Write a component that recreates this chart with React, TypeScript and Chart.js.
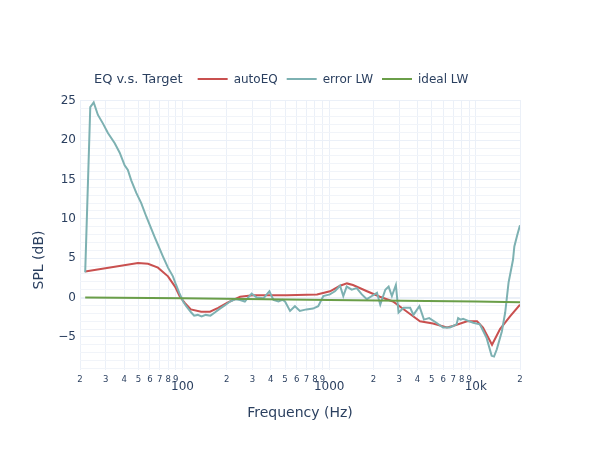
import React, { useEffect, useRef } from "react";
import { Chart, registerables } from "chart.js";

Chart.register(...registerables);

const FONT = '"DejaVu Sans", Verdana, sans-serif';
const TEXT = "#2a3f5f";
const GRID = "#ebf0f8";
const GRID_MINOR = "#f1f4f9";

const LEGEND_TITLE = "EQ v.s. Target";
const SERIES_NAMES = ["autoEQ", "error LW", "ideal LW"];
const SERIES_COLORS = ["#c9504f", "#7db1b2", "#6a9e48"];

const AUTOEQ_FREQ = [21.7, 49.7, 58.2, 68, 79.6, 88.9, 96, 104, 114, 134, 154, 175, 204, 247, 302, 515, 826, 1014, 1186, 1322, 1453, 1810, 2218, 2723, 3393, 4160, 5100, 6355, 6980, 8710, 10190, 11190, 12890, 14620, 17100, 20000];
const AUTOEQ_DB = [3.3, 4.4, 4.3, 3.8, 2.7, 1.4, 0.1, -0.7, -1.5, -1.8, -1.8, -1.3, -0.6, 0.1, 0.3, 0.3, 0.4, 0.8, 1.5, 1.8, 1.6, 0.8, 0.1, -0.5, -1.8, -3.0, -3.3, -3.8, -3.6, -3.0, -3.0, -3.8, -6.0, -4.0, -2.4, -0.9];

const ERROR_FREQ = [21.7, 23.5, 24.8, 26.5, 28.7, 31, 34.5, 37.3, 40.3, 42.4, 44.7, 48.4, 52.3, 56.6, 64.5, 73.6, 79.6, 86, 90.4, 95, 101, 106, 114.7, 120, 127, 135, 144, 155, 166, 180, 194, 211, 230, 247, 266, 280, 296, 321, 356, 391, 417, 451, 480, 500, 541, 584, 631, 700, 776, 842, 912, 1011, 1094, 1186, 1248, 1316, 1424, 1540, 1669, 1806, 1955, 2118, 2230, 2414, 2542, 2677, 2849, 2972, 3218, 3566, 3753, 4122, 4428, 4807, 5384, 5971, 6653, 7385, 7573, 7858, 8188, 8700, 9586, 10647, 11826, 12815, 13300, 13880, 15040, 15850, 16710, 17920, 18300, 19200, 20000];
const ERROR_DB = [3.2, 24.2, 24.8, 23.2, 22.1, 20.9, 19.6, 18.4, 16.8, 16.2, 14.9, 13.3, 12.0, 10.3, 7.7, 5.2, 3.8, 2.7, 1.6, 0.6, -0.5, -1.1, -1.9, -2.3, -2.2, -2.4, -2.2, -2.3, -1.9, -1.4, -1.0, -0.5, -0.2, -0.3, -0.5, 0.0, 0.5, 0.0, -0.1, 0.8, -0.3, -0.5, -0.3, -0.5, -1.7, -1.1, -1.7, -1.5, -1.4, -1.1, 0.2, 0.4, 0.8, 1.5, 0.2, 1.4, 1.0, 1.2, 0.4, -0.2, 0.2, 0.6, -0.9, 1.0, 1.4, 0.2, 1.6, -1.9, -1.3, -1.3, -2.2, -1.1, -2.8, -2.6, -3.2, -3.8, -3.8, -3.4, -2.6, -2.8, -2.7, -2.9, -3.2, -3.4, -5.1, -7.4, -7.5, -6.6, -4.3, -1.9, 1.9, 4.8, 6.5, 8.0, 9.2];

const IDEAL_FREQ = [21.7, 100, 1000, 10000, 20000];
const IDEAL_DB = [0.0, -0.1, -0.3, -0.5, -0.6];

const X_TICK_VALUES = [20, 30, 40, 50, 60, 70, 80, 90, 100, 200, 300, 400, 500, 600, 700, 800, 900, 1000, 2000, 3000, 4000, 5000, 6000, 7000, 8000, 9000, 10000, 20000];
const X_TICK_LABELS = ["2", "3", "4", "5", "6", "7", "8", "9", "100", "2", "3", "4", "5", "6", "7", "8", "9", "1000", "2", "3", "4", "5", "6", "7", "8", "9", "10k", "2"];
const X_MAJOR = [100, 1000, 10000];
const X_MIN = 20;
const X_MAX = 20000;

const Y_TICK_VALUES = [-5, 0, 5, 10, 15, 20, 25];
const Y_MIN = -9.2;
const Y_MAX = 25.1;

const X_TITLE = "Frequency (Hz)";
const Y_TITLE = "SPL (dB)";

function toPoints(xs: number[], ys: number[]) {
  return xs.map((x, i) => ({ x, y: ys[i] }));
}

const legendPlugin = {
  id: "plotlyLegend",
  afterDraw(chart: any) {
    const ctx = chart.ctx as CanvasRenderingContext2D;
    ctx.save();
    ctx.textBaseline = "middle";
    ctx.textAlign = "left";
    ctx.fillStyle = TEXT;
    ctx.font = `13px ${FONT}`;
    const y = 80;
    let x = 94;
    ctx.fillText(LEGEND_TITLE, x, y);
    x += ctx.measureText(LEGEND_TITLE).width + 15;
    ctx.font = `12px ${FONT}`;
    chart.data.datasets.forEach((ds: any) => {
      ctx.strokeStyle = ds.borderColor;
      ctx.lineWidth = 2;
      ctx.beginPath();
      ctx.moveTo(x, y - 1);
      ctx.lineTo(x + 30, y - 1);
      ctx.stroke();
      ctx.fillStyle = TEXT;
      ctx.fillText(ds.label, x + 36, y);
      x += 36 + ctx.measureText(ds.label).width + 9;
    });
    // y axis title
    ctx.save();
    ctx.translate(39, 260);
    ctx.rotate(-Math.PI / 2);
    ctx.textAlign = "center";
    ctx.textBaseline = "middle";
    ctx.font = `14px ${FONT}`;
    ctx.fillStyle = TEXT;
    ctx.fillText(Y_TITLE, 0, 0);
    ctx.restore();
    ctx.restore();
  },
};

export default function App() {
  const canvasRef = useRef<HTMLCanvasElement | null>(null);

  useEffect(() => {
    const canvas = canvasRef.current;
    if (!canvas) return;
    const yGrid: number[] = [];
    for (let v = Math.ceil(Y_MIN); v <= Math.floor(Y_MAX); v++) yGrid.push(v);

    const series = [
      toPoints(AUTOEQ_FREQ, AUTOEQ_DB),
      toPoints(ERROR_FREQ, ERROR_DB),
      toPoints(IDEAL_FREQ, IDEAL_DB),
    ];

    const chart = new Chart(canvas, {
      type: "line",
      data: {
        datasets: series.map((data, i) => ({
          label: SERIES_NAMES[i],
          data,
          borderColor: SERIES_COLORS[i],
          backgroundColor: SERIES_COLORS[i],
          borderWidth: 2,
          pointRadius: 0,
          tension: 0,
          fill: false,
          order: 3 - i,
        })),
      },
      options: {
        responsive: false,
        animation: false,
        devicePixelRatio: 1,
        layout: { padding: { top: 100, left: 0, right: 80, bottom: 0 } },
        plugins: {
          legend: { display: false },
          tooltip: { enabled: false },
        },
        scales: {
          x: {
            type: "logarithmic",
            min: X_MIN,
            max: X_MAX,
            afterBuildTicks: (s: any) => {
              s.ticks = X_TICK_VALUES.map((v) => ({ value: v }));
            },
            afterFit: (s: any) => {
              s.height = 80;
            },
            border: { display: false },
            grid: {
              drawTicks: false,
              color: GRID,
              lineWidth: 1,
            },
            ticks: {
              autoSkip: false,
              maxRotation: 0,
              minRotation: 0,
              padding: 5,
              color: TEXT,
              font: (c: any) => {
                const v = c.tick ? c.tick.value : 0;
                return X_MAJOR.includes(v)
                  ? { family: FONT, size: 12, lineHeight: 0.68 }
                  : { family: FONT, size: 8.5, lineHeight: 1.2 };
              },
              callback: (value: any, index: number) => {
                const lab = X_TICK_LABELS[index];
                return X_MAJOR.includes(Number(value)) ? ["", lab] : lab;
              },
            },
            title: {
              display: true,
              text: X_TITLE,
              color: TEXT,
              font: { family: FONT, size: 14 },
              padding: { top: 0, bottom: 28 },
            },
          },
          y: {
            type: "linear",
            min: Y_MIN,
            max: Y_MAX,
            afterBuildTicks: (s: any) => {
              s.ticks = yGrid.map((v) => ({ value: v }));
            },
            afterFit: (s: any) => {
              s.width = 80;
            },
            border: { display: false },
            grid: {
              drawTicks: false,
              color: (c: any) => (c.tick && c.tick.value % 5 === 0 ? GRID : GRID_MINOR),
              lineWidth: (c: any) => (c.tick && c.tick.value === 0 ? 2 : 1),
            },
            ticks: {
              autoSkip: false,
              padding: 4,
              color: TEXT,
              font: { family: FONT, size: 12 },
              callback: (value: any) => {
                const v = Number(value);
                if (!Y_TICK_VALUES.includes(v)) return "";
                return v < 0 ? "\u2212" + Math.abs(v) : String(v);
              },
            },
            title: { display: false },
          },
        },
      },
      plugins: [legendPlugin],
    } as any);

    return () => chart.destroy();
  }, []);

  return (
    <div style={{ position: "absolute", left: 0, top: 0, width: 600, height: 450, background: "#fff" }}>
      <canvas ref={canvasRef} width={600} height={450} style={{ display: "block" }} />
    </div>
  );
}
